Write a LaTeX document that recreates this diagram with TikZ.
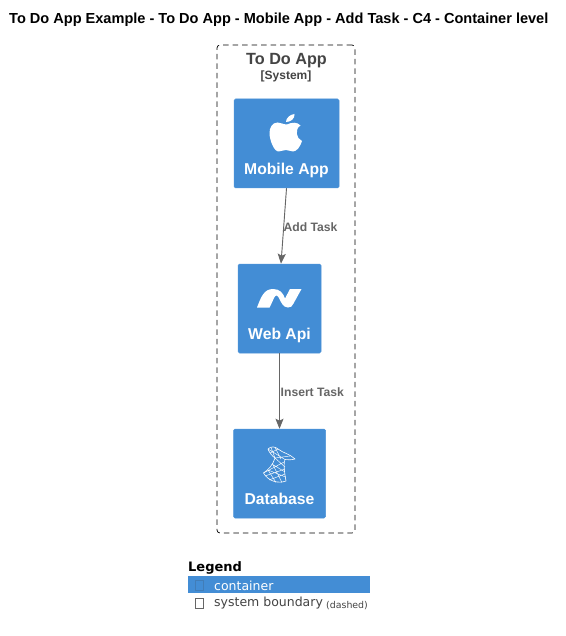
\documentclass[tikz,border=0pt]{standalone}
\usepackage{fontspec}
\setmainfont{Liberation Sans}
\newfontfamily\legendfont{DejaVu Sans}
\usetikzlibrary{arrows.meta}
\definecolor{boxblue}{HTML}{438DD5}
\definecolor{boxline}{HTML}{4C93D8}
\definecolor{reltext}{HTML}{666666}
\definecolor{bndtext}{HTML}{444444}
\tikzset{
	container/.style={draw=boxline, fill=boxblue, rounded corners=1.5pt, line width=0.5pt, inner sep=0pt},
	boxlabel/.style={text=white, font=\fontsize{15.7}{16}\selectfont\bfseries, inner sep=0pt},
	rel/.style={draw=reltext, line width=0.9pt, -{Stealth[length=10pt, width=8pt, inset=2pt]}, fill=reltext},
	rellabel/.style={text=reltext, font=\fontsize{12.15}{12}\selectfont\bfseries, inner sep=0pt, anchor=west},
	icon/.style={fill=white, draw=none},
	meshline/.style={draw=white, line width=0.6pt, line join=round},
	legendtext/.style={font=\fontsize{12.5}{14}\legendfont, inner sep=0pt, anchor=west}
}

\begin{document}
\begin{tikzpicture}[x=1pt, y=-1pt]
	\useasboundingbox[fill=white] (0,0) rectangle (565,636);
	\node[anchor=west, inner sep=0pt, font=\fontsize{14.55}{14.5}\selectfont\bfseries] (title) at (9,20) {To Do App Example - To Do App - Mobile App - Add Task - C4 - Container level};

	% system boundary
	\node[draw=black, dash pattern=on 5.5pt off 4pt, rounded corners=3pt, line width=0.7pt, minimum width=138pt, minimum height=488pt, inner sep=0pt] (system) at (286,289) {};
	\node[text=bndtext, inner sep=0pt, font=\fontsize{16.2}{16}\selectfont\bfseries] (systemname) at (286.5,60.5) {To Do App};
	\node[text=bndtext, inner sep=0pt, font=\fontsize{12}{12}\selectfont\bfseries] (systemtype) at (286,76.5) {[System]};

	% containers
	\node[container, minimum width=105pt, minimum height=89pt] (mobile) at (286.5,143.5) {};
	\node[container, minimum width=83pt, minimum height=89pt] (webapi) at (279.5,308.5) {};
	\node[container, minimum width=92pt, minimum height=89pt] (database) at (279.5,473.5) {};
	\node[boxlabel] (mobilelabel) at (286.5,170.5) {Mobile App};
	\node[boxlabel] (webapilabel) at (279.5,335.5) {Web Api};
	\node[boxlabel] (databaselabel) at (279.5,499) {Database};

	% icons
	\fill[icon] (287,124.5) .. controls (283,124.5) and (281,122.5) .. (277.5,122.5)
		.. controls (272,122.5) and (269.5,128) .. (269.5,133)
		.. controls (269.5,140) and (274,151.5) .. (278.5,151.5)
		.. controls (281,151.5) and (283,150) .. (286,150)
		.. controls (289,150) and (290.5,151.5) .. (293,151.5)
		.. controls (297,151.5) and (300.5,146) .. (302,141)
		.. controls (296,138.5) and (294.5,129) .. (300.5,125.5)
		.. controls (297.5,122) and (292,122) .. (287,124.5) -- cycle;
	\fill[icon] (286,122) .. controls (286,118) and (290,114.5) .. (294.5,114)
		.. controls (295,118.5) and (291,122) .. (286,122) -- cycle;
	\fill[icon] (257,307.5) .. controls (261,297) and (264,289) .. (273,289)
		.. controls (280,289) and (283,293) .. (285,298.5)
		-- (290,289) -- (301.5,289) -- (293.5,303.5)
		.. controls (292,306.5) and (291,307.5) .. (288,307.5)
		.. controls (283,307.5) and (281,302) .. (279,298)
		.. controls (277,294.5) and (275.5,295) .. (274,298)
		.. controls (272.5,301) and (271.5,304) .. (269.5,307.5) -- cycle;
	\draw[meshline] (268,449) .. controls (271,446) and (275,446.5) .. (278,449)
		.. controls (283,453) and (290,454) .. (295,459)
		.. controls (291,460) and (288,460) .. (285,459.5)
		.. controls (283,465) and (285,475) .. (286,481)
		.. controls (278,484) and (268,481) .. (263.5,473)
		.. controls (268,470) and (273,465) .. (275,458)
		.. controls (272,456) and (269,452) .. (268,449) -- cycle;
	\draw[meshline, line width=0.45pt] (268,449) -- (285,459.5) (271,447.5) -- (275,458) (275,447.5) -- (281,459)
		(270,453) -- (278,449) (275,458) -- (290,456) (275,458) -- (285,467)
		(272,464) -- (285,472) (268,470) -- (285.5,477) (263.5,473) -- (284,462)
		(268,470) -- (276,482.5) (273,465) -- (282,482.5) (265,476) -- (285,469) (269,480) -- (285,474);

	% relations
	\coordinate (webapitop) at ([xshift=1.5pt]webapi.north);
	\draw[rel] (mobile.south) -- (webapitop);
	\draw[rel] (webapi.south) -- (database.north);
	\node[rellabel] (addtask) at (283.5,227) {Add Task};
	\node[rellabel] (inserttask) at (280.5,392) {Insert Task};

	% legend
	\node[anchor=west, inner sep=0pt, font=\fontsize{13}{14}\legendfont\bfseries] (legendtitle) at (188,568) {Legend};
	\fill[boxblue] (188,575.5) rectangle (370,593);
	\draw[boxline!85!black, line width=0.4pt] (195.5,580) rectangle (203,590);
	\node[legendtext, text=white] (legendcontainer) at (214,585.5) {container};
	\draw[black!60, line width=0.5pt] (195.5,598) rectangle (203,608);
	\node[legendtext, text=bndtext] (legendsystem) at (214,603.5) {system boundary};
	\node[anchor=west, inner sep=0pt, text=bndtext, font=\fontsize{9.4}{9}\legendfont] (legenddashed) at (326,605.5) {(dashed)};
\end{tikzpicture}
\end{document}
